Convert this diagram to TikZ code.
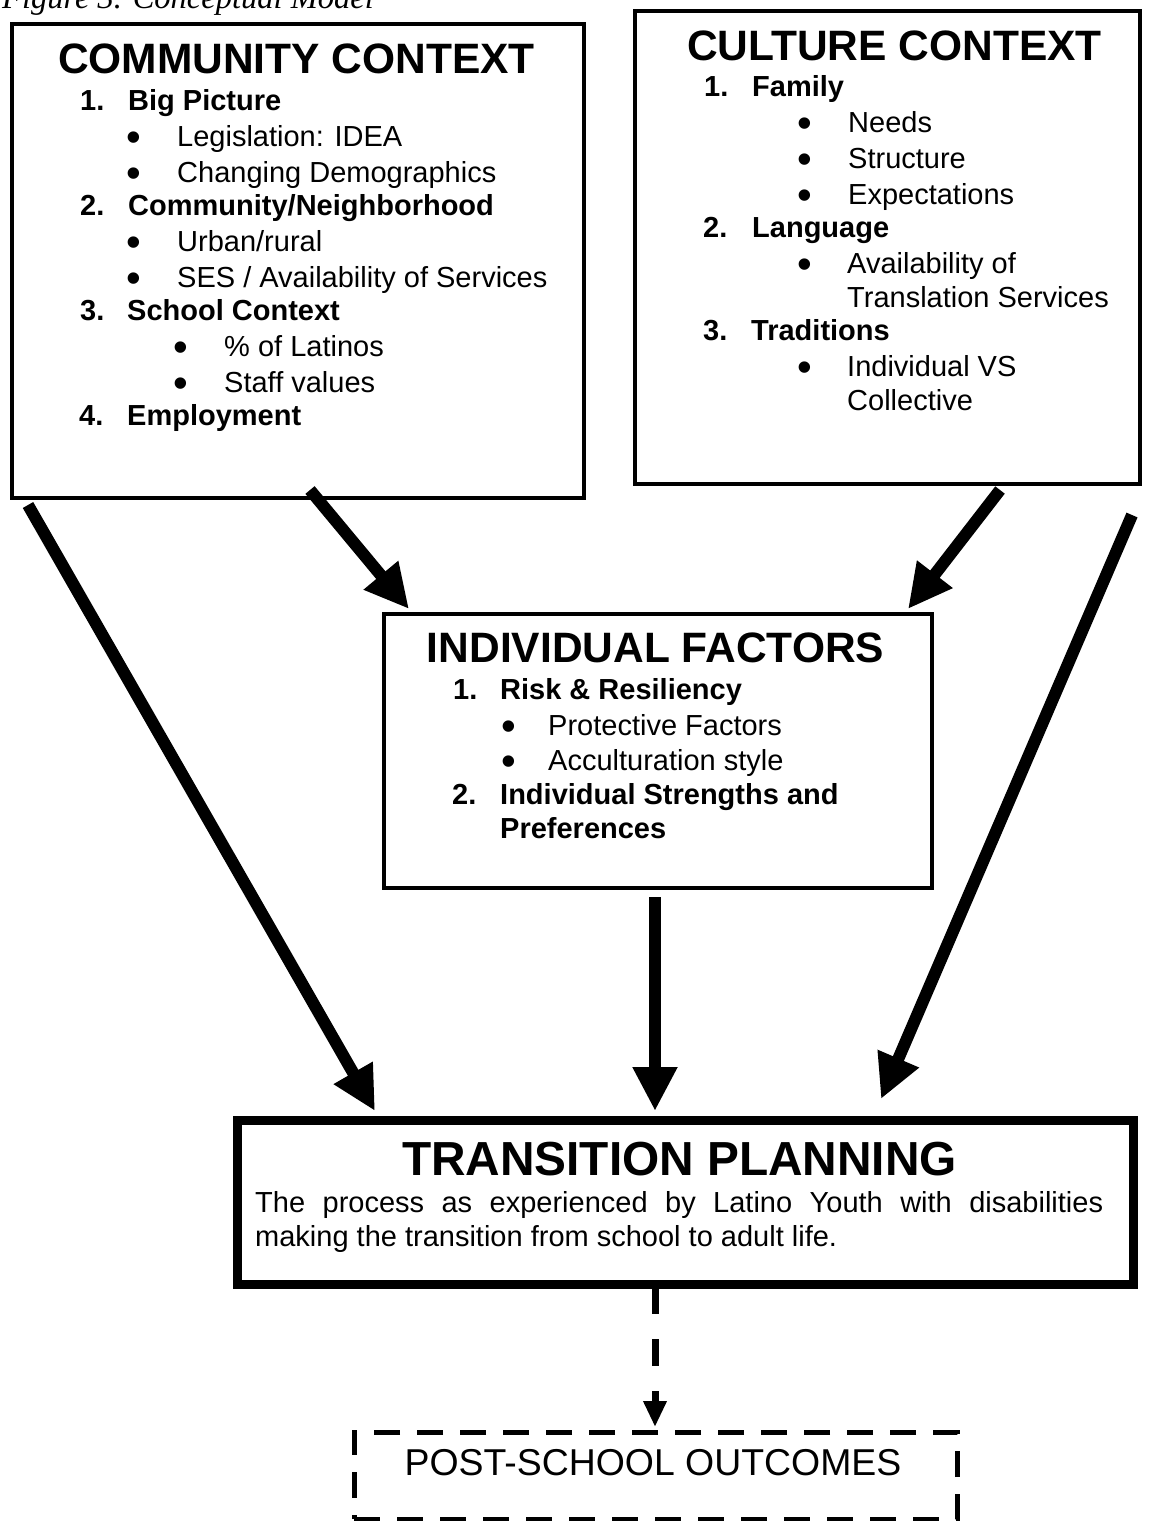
\documentclass[tikz,border=0pt]{standalone}
\usepackage{fontspec}
\setmainfont{Liberation Sans}
\newfontfamily\capfont{Liberation Serif}
\usetikzlibrary{arrows.meta}

\newcommand{\bul}{\smash{•}}

\begin{document}
\begin{tikzpicture}[x=1pt,y=-1pt,
  txt/.style={anchor=base west, inner sep=0pt, font=\fontsize{29}{34}\selectfont},
  num/.style={anchor=base west, inner sep=0pt, font=\fontsize{29}{34}\selectfont\bfseries},
  dot/.style={anchor=base, inner sep=0pt, yshift=-5pt, font=\fontsize{42}{42}\selectfont},
  head/.style={anchor=base, inner sep=0pt, font=\fontsize{42.5}{48}\selectfont\bfseries},
  box/.style={draw, anchor=north west, inner sep=0pt, line width=4pt},
  bigarrow/.style={line width=12pt, -{Triangle[length=44pt,width=42pt]}},
]
\useasboundingbox (0,0) rectangle (1155,1521);

% caption, running off the top edge
\node[anchor=base west, inner sep=0pt, font=\capfont\itshape\fontsize{32.5}{36}\selectfont] (cap) at (2,8) {Figure 3. Conceptual Model};

% ---------- boxes ----------
\node[box, minimum width=572pt, minimum height=474pt] (comm) at (10,22) {};
\node[box, minimum width=505pt, minimum height=473pt] (cult) at (633,9) {};
\node[box, minimum width=548pt, minimum height=274pt] (indiv) at (381.5,611.5) {};
\node[box, line width=9pt, minimum width=896pt, minimum height=164pt] (trans) at (232.5,1115.5) {};
\node[box, line width=5pt, dash pattern=on 26pt off 17pt, minimum width=603pt, minimum height=87pt] (post) at (351.5,1429.5) {};

% ---------- community context ----------
\node[head] (commh) at (296.5,73.5) {COMMUNITY CONTEXT};
\node[num] (c1n) at (80,110) {1.};
\node[num] (c1)  at (128,110) {Big Picture};
\node[dot] (c1ad) at (134,146) {\bul};
\node[txt] (c1a) at (177,146) {Legislation: IDEA};
\node[dot] (c1bd) at (134,182) {\bul};
\node[txt] (c1b) at (177,182) {Changing Demographics};
\node[num] (c2n) at (80,215) {2.};
\node[num] (c2)  at (128,215) {Community/Neighborhood};
\node[dot] (c2ad) at (134,251) {\bul};
\node[txt] (c2a) at (177,251) {Urban/rural};
\node[dot] (c2bd) at (134,287) {\bul};
\node[txt] (c2b) at (177,287) {SES / Availability of Services};
\node[num] (c3n) at (80,320) {3.};
\node[num] (c3)  at (127,320) {School Context};
\node[dot] (c3ad) at (181,356) {\bul};
\node[txt] (c3a) at (224,356) {\% of Latinos};
\node[dot] (c3bd) at (181,392) {\bul};
\node[txt] (c3b) at (224,392) {Staff values};
\node[num] (c4n) at (79,425) {4.};
\node[num] (c4)  at (127,425) {Employment};

% ---------- culture context ----------
\node[head] (culth) at (894.5,60.5) {CULTURE CONTEXT};
\node[num] (u1n) at (704,96) {1.};
\node[num] (u1)  at (752,96) {Family};
\node[dot] (u1ad) at (805,132) {\bul};
\node[txt] (u1a) at (848,132) {Needs};
\node[dot] (u1bd) at (805,168) {\bul};
\node[txt] (u1b) at (848,168) {Structure};
\node[dot] (u1cd) at (805,204) {\bul};
\node[txt] (u1c) at (848,204) {Expectations};
\node[num] (u2n) at (703,237) {2.};
\node[num] (u2)  at (752,237) {Language};
\node[dot] (u2ad) at (805,273) {\bul};
\node[txt] (u2a) at (847,273) {Availability of};
\node[txt] (u2b) at (847,307) {Translation Services};
\node[num] (u3n) at (703,340) {3.};
\node[num] (u3)  at (751,340) {Traditions};
\node[dot] (u3ad) at (805,376) {\bul};
\node[txt] (u3a) at (847,376) {Individual VS};
\node[txt] (u3b) at (847,410) {Collective};

% ---------- individual factors ----------
\node[head] (indivh) at (655.5,662) {INDIVIDUAL FACTORS};
\node[num] (i1n) at (453,699) {1.};
\node[num] (i1)  at (500,699) {Risk \& Resiliency};
\node[dot] (i1ad) at (509,735) {\bul};
\node[txt] (i1a) at (548,735) {Protective Factors};
\node[dot] (i1bd) at (509,770) {\bul};
\node[txt] (i1b) at (548,770) {Acculturation style};
\node[num] (i2n) at (452,804) {2.};
\node[num] (i2)  at (500,804) {Individual Strengths and};
\node[num] (i2b) at (500,838) {Preferences};

% ---------- transition planning ----------
\node[anchor=base, inner sep=0pt, font=\fontsize{47.8}{52}\selectfont\bfseries] (transh) at (679.5,1175) {TRANSITION PLANNING};
\node[txt] (tb1) at (255,1212) {\makebox[848pt][s]{The process as experienced by Latino Youth with disabilities}};
\node[txt] (tb2) at (255,1246) {making the transition from school to adult life.};

% ---------- post-school outcomes ----------
\node[anchor=base, inner sep=0pt, font=\fontsize{37.4}{42}\selectfont] (posth) at (653,1475) {POST-SCHOOL OUTCOMES};

% ---------- connector end points ----------
\coordinate (a1s) at (28,505);
\coordinate (a1e) at (375,1111);
\coordinate (a2s) at (310,490);
\coordinate (a2e) at (409,609);
\coordinate (a3s) at (1000,490);
\coordinate (a3e) at (908,609);
\coordinate (a4s) at (1132,515);
\coordinate (a4e) at (881,1099);
\coordinate (a5s) at (655,897);
\coordinate (a5e) at (655,1111);
\coordinate (a6s) at (655,1287);
\coordinate (a6e) at (655,1427);

% ---------- connectors ----------
\draw[bigarrow] (a1s) -- (a1e);
\draw[bigarrow] (a2s) -- (a2e);
\draw[bigarrow] (a3s) -- (a3e);
\draw[bigarrow] (a4s) -- (a4e);
\draw[bigarrow] (a5s) -- (a5e);
\draw[line width=7pt, dash pattern=on 27pt off 25pt, -{Triangle[length=26pt,width=22pt]}] (a6s) -- (a6e);
\end{tikzpicture}
\end{document}
